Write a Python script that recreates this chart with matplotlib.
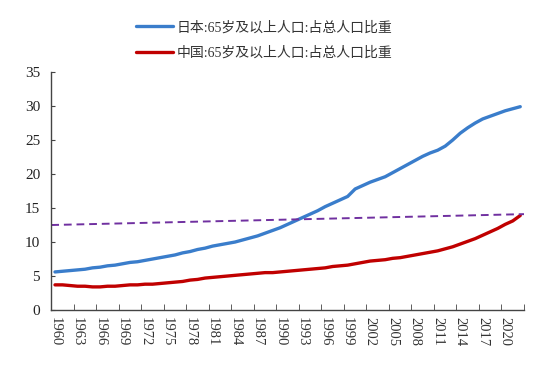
import matplotlib.pyplot as plt
import numpy as np

years = list(range(1960, 2023))

japan = [5.6, 5.7, 5.8, 5.9, 6.0, 6.2, 6.3, 6.5, 6.6, 6.8,
         7.0, 7.1, 7.3, 7.5, 7.7, 7.9, 8.1, 8.4, 8.6, 8.9,
         9.1, 9.4, 9.6, 9.8, 10.0, 10.3, 10.6, 10.9, 11.3, 11.7,
         12.1, 12.6, 13.1, 13.6, 14.1, 14.6, 15.2, 15.7, 16.2, 16.7,
         17.8, 18.3, 18.8, 19.2, 19.6, 20.2, 20.8, 21.4, 22.0, 22.6,
         23.1, 23.5, 24.1, 25.0, 26.0, 26.8, 27.5, 28.1, 28.5, 28.9,
         29.3, 29.6, 29.9]

china = [3.7, 3.7, 3.6, 3.5, 3.5, 3.4, 3.4, 3.5, 3.5, 3.6,
         3.7, 3.7, 3.8, 3.8, 3.9, 4.0, 4.1, 4.2, 4.4, 4.5,
         4.7, 4.8, 4.9, 5.0, 5.1, 5.2, 5.3, 5.4, 5.5, 5.5,
         5.6, 5.7, 5.8, 5.9, 6.0, 6.1, 6.2, 6.4, 6.5, 6.6,
         6.8, 7.0, 7.2, 7.3, 7.4, 7.6, 7.7, 7.9, 8.1, 8.3,
         8.5, 8.7, 9.0, 9.3, 9.7, 10.1, 10.5, 11.0, 11.5, 12.0,
         12.6, 13.1, 13.9]

# dashed reference line, value at the left and right edge of the axis
trend_ends = [12.5, 14.1]

labels = ['日本:65岁及以上人口:占总人口比重', '中国:65岁及以上人口:占总人口比重']

serif = ['Liberation Serif', 'Noto Sans CJK SC']

fig = plt.figure(figsize=(5.51, 3.79), dpi=100)
ax = fig.add_axes([0.093, 0.182, 0.858, 0.628])

x = np.arange(len(years))
l1, = ax.plot(x, japan, color='#3A7DCB', lw=2.4, solid_capstyle='round')
l2, = ax.plot(x, china, color='#C00000', lw=2.4, solid_capstyle='round')
ax.plot([-0.5, len(years) - 0.5], trend_ends, color='#7030A0', lw=1.4, ls=(0, (4, 2.5)))

ax.set_xlim(-0.5, len(years) - 0.5)
ax.set_ylim(0, 35)
ax.set_yticks(range(0, 36, 5))

ax.set_xticks(x[::3])
ax.set_xticklabels([str(y) for y in years[::3]], rotation=-90, fontsize=10.5, family=serif, color='#333333')
ax.tick_params(axis='x', which='major', length=0, pad=5)
ax.set_xticks(np.arange(-0.5, len(years), 3), minor=True)
ax.tick_params(axis='x', which='minor', length=4, direction='in', color='#444444')
ax.tick_params(axis='y', length=3, direction='in', color='#444444', pad=8)
for t in ax.get_yticklabels():
    t.set_fontfamily(serif)
    t.set_fontsize(11)
    t.set_color('#222222')

for s in ['top', 'right']:
    ax.spines[s].set_visible(False)
for s in ['left', 'bottom']:
    ax.spines[s].set_color('#444444')
    ax.spines[s].set_linewidth(1)

leg = fig.legend([l1, l2], labels, loc='upper center', bbox_to_anchor=(0.48, 0.978), ncol=1, frameon=False,
                 prop={'family': serif, 'size': 10}, handlelength=2.6, labelspacing=0.85, handletextpad=0.3)
for t in leg.get_texts():
    t.set_color('#333333')

fig.savefig('out.png', dpi=100)
